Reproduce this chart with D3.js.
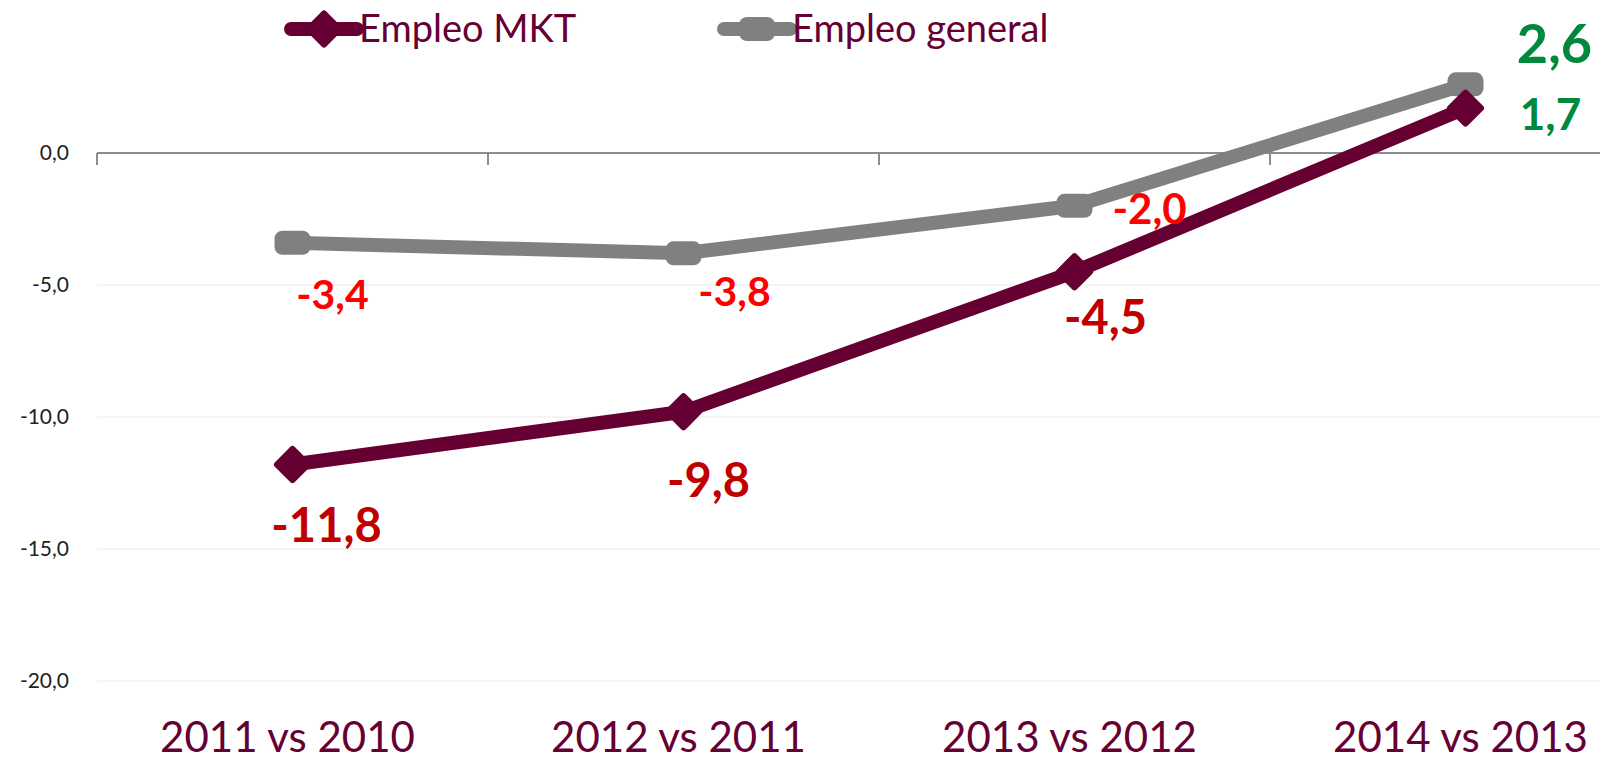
<!DOCTYPE html>
<html>
<head>
<meta charset="utf-8">
<script src="https://cdn.jsdelivr.net/npm/d3@7"></script>
<style>
  body { margin: 0; background: #fff; }
  text { font-family: Lato, "Open Sans", sans-serif; }
</style>
</head>
<body>
<svg id="chart" width="1600" height="762"></svg>
<script>
// data
var categories = ['2011 vs 2010', '2012 vs 2011', '2013 vs 2012', '2014 vs 2013'];
var empleoMkt = [-11.8, -9.8, -4.5, 1.7];
var empleoGeneral = [-3.4, -3.8, -2.0, 2.6];
var yTicks = [0, -5, -10, -15, -20];

var svg = d3.select('#chart');
var W = 1600, H = 762;
var left = 97, bandW = 391;

var x = d3.scaleBand().domain(categories).range([left, left + bandW * 4]);
var y = d3.scaleLinear().domain([-20, 5]).range([681, 21]);

function fmt(v){ return v.toFixed(1).replace('.', ','); }

// gridlines
svg.append('g').selectAll('line').data(yTicks.filter(function(d){ return d != 0; }))
  .enter().append('line')
  .attr('x1', left).attr('x2', W)
  .attr('y1', function(d){ return y(d); }).attr('y2', function(d){ return y(d); })
  .attr('stroke', '#ececec').attr('stroke-width', 1);

// y tick labels
svg.append('g').selectAll('text').data(yTicks)
  .enter().append('text')
  .attr('x', 69).attr('y', function(d){ return y(d); })
  .attr('dy', '.35em')
  .attr('text-anchor', 'end')
  .style('font-size', '21px').style('fill', '#222')
  .text(fmt);

// zero axis with ticks
svg.append('line')
  .attr('x1', left).attr('x2', W)
  .attr('y1', y(0)).attr('y2', y(0))
  .attr('stroke', '#8c8c8c').attr('stroke-width', 2);
svg.append('g').selectAll('line').data(d3.range(5))
  .enter().append('line')
  .attr('x1', function(i){ return left + bandW * i; })
  .attr('x2', function(i){ return left + bandW * i; })
  .attr('y1', y(0)).attr('y2', y(0) + 12)
  .attr('stroke', '#8c8c8c').attr('stroke-width', 2);

// category labels
svg.append('g').selectAll('text').data(categories)
  .enter().append('text')
  .attr('x', function(d){ return x(d) + x.bandwidth() / 2 - 5; })
  .attr('y', 752)
  .attr('text-anchor', 'middle')
  .style('font-size', '42px').style('fill', '#660033')
  .text(function(d){ return d; });

var cx = function(d, i){ return x(categories[i]) + x.bandwidth() / 2; };

var line = d3.line()
  .x(function(d, i){ return x(categories[i]) + x.bandwidth() / 2; })
  .y(function(d){ return y(d); });

// general series
svg.append('path').datum(empleoGeneral)
  .attr('d', line).attr('fill', 'none')
  .attr('stroke', '#808080').attr('stroke-width', 14)
  .attr('stroke-linejoin', 'round');
svg.append('g').selectAll('rect').data(empleoGeneral)
  .enter().append('rect')
  .attr('x', function(d, i){ return cx(d, i) - 18; })
  .attr('y', function(d){ return y(d) - 12; })
  .attr('width', 36).attr('height', 24)
  .attr('rx', 8).attr('fill', '#808080');

// mkt series
svg.append('path').datum(empleoMkt)
  .attr('d', line).attr('fill', 'none')
  .attr('stroke', '#660033').attr('stroke-width', 14)
  .attr('stroke-linejoin', 'round');
svg.append('g').selectAll('path.mk').data(empleoMkt)
  .enter().append('path')
  .attr('transform', function(d, i){ return 'translate(' + cx(d, i) + ',' + y(d) + ') rotate(45)'; })
  .attr('d', 'M-11,-11 h22 v22 h-22 z')
  .attr('fill', '#660033').attr('stroke', '#660033')
  .attr('stroke-width', 6).attr('stroke-linejoin', 'round');

// data labels
var genLabels = [
  { dx: 40, dy: 66, size: 41, color: '#ff0000' },
  { dx: 51, dy: 53, size: 41, color: '#ff0000' },
  { dx: 75, dy: 18, size: 42, color: '#ff0000' },
  { dx: 89, dy: -21, size: 54, color: '#00893c' }
];
var mktLabels = [
  { dx: 34, dy: 77, size: 47, color: '#c00000' },
  { dx: 25, dy: 85, size: 47, color: '#c00000' },
  { dx: 31, dy: 62, size: 47, color: '#c00000' },
  { dx: 85, dy: 22, size: 44, color: '#00893c' }
];
function addLabels(vals, opts){
  svg.append('g').selectAll('text').data(vals)
    .enter().append('text')
    .attr('x', function(d, i){ return cx(d, i) + opts[i].dx; })
    .attr('y', function(d, i){ return y(d) + opts[i].dy; })
    .attr('text-anchor', 'middle')
    .style('font-weight', 'bold')
    .style('font-size', function(d, i){ return opts[i].size + 'px'; })
    .style('fill', function(d, i){ return opts[i].color; })
    .text(fmt);
}
addLabels(empleoGeneral, genLabels);
addLabels(empleoMkt, mktLabels);

// legend
var legend = [
  { name: 'Empleo MKT', color: '#660033', x: 291, diamond: true },
  { name: 'Empleo general', color: '#808080', x: 724, diamond: false }
];
var lg = svg.append('g').selectAll('g').data(legend).enter().append('g')
  .attr('transform', function(d){ return 'translate(' + d.x + ',29)'; });
lg.append('line').attr('x1', 0).attr('x2', 66).attr('y1', 0).attr('y2', 0)
  .attr('stroke', function(d){ return d.color; }).attr('stroke-width', 14)
  .attr('stroke-linecap', 'round');
lg.filter(function(d){ return d.diamond; }).append('path')
  .attr('transform', 'translate(33,0) rotate(45)')
  .attr('d', 'M-11,-11 h22 v22 h-22 z')
  .attr('fill', '#660033').attr('stroke', '#660033')
  .attr('stroke-width', 6).attr('stroke-linejoin', 'round');
lg.filter(function(d){ return !d.diamond; }).append('rect')
  .attr('x', 15).attr('y', -12).attr('width', 36).attr('height', 24)
  .attr('rx', 8).attr('fill', '#808080');
lg.append('text').attr('x', 68).attr('y', 0).attr('dy', '.35em')
  .style('font-size', '38px').style('fill', '#660033')
  .text(function(d){ return d.name; });
</script>
</body>
</html>
